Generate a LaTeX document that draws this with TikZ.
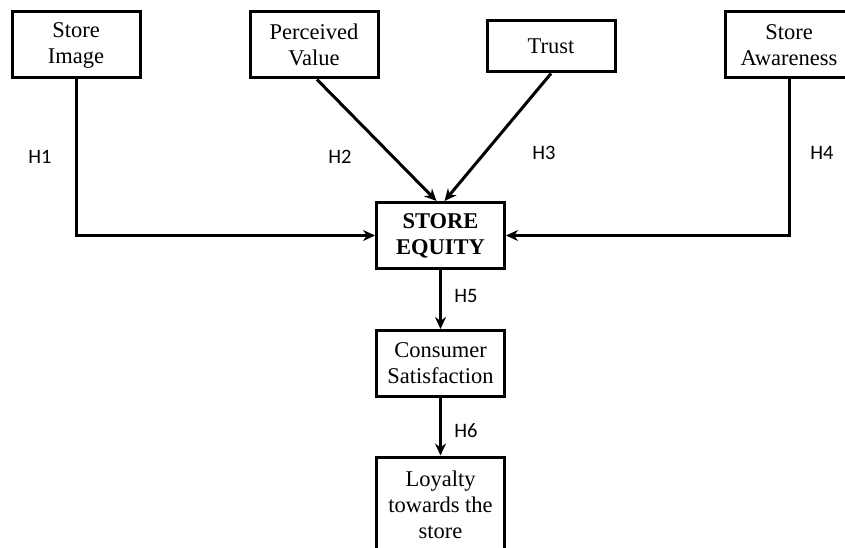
\documentclass[tikz,border=0pt]{standalone}
\usepackage{fontspec}
\setmainfont{Liberation Serif}
\newfontfamily\hlabelfont{Carlito}
\usetikzlibrary{arrows.meta}
\begin{document}
\begin{tikzpicture}[x=1pt,y=-1pt,
  box/.style={draw,line width=3pt,align=center,inner sep=0pt,
    minimum width=128pt,minimum height=66pt,
    font=\fontsize{22.5}{26}\selectfont},
  arr/.style={line width=3pt,-{Stealth[length=12pt,width=11pt]}},
  hyp/.style={font=\hlabelfont\fontsize{20.5}{24}\selectfont,inner sep=0pt}]
\useasboundingbox (0,0) rectangle (845,548);
% constructs
\node[box] (img) at (76,45) {Store\\Image};
\node[box] (pv) at (314,45) {Perceived\\Value};
\node[box,minimum height=51pt] (tr) at (551,46.5) {Trust};
\node[box] (aw) at (789,45) {Store\\Awareness};
\node[box,font=\fontsize{22.5}{26}\selectfont\bfseries] (eq) at (440.5,235.5) {STORE\\EQUITY};
\node[box] (cs) at (440.5,363.5) {Consumer\\Satisfaction};
\node[box,minimum height=95pt] (loy) at (440.5,504.5) {Loyalty\\towards the\\store};
% hypothesised paths
\draw[arr] (img.south) |- (eq.west);
\draw[arr] (aw.south) |- (eq.east);
\draw[arr] ([xshift=3pt]pv.south) -- ([xshift=-4pt]eq.north);
\draw[arr] (tr.south) -- ([xshift=4pt]eq.north);
\draw[arr] (eq.south) -- (cs.north);
\draw[arr] (cs.south) -- (loy.north);
% path labels
\node[hyp] (h1) at (40,157) {H1};
\node[hyp] (h2) at (340,157) {H2};
\node[hyp] (h3) at (544,153) {H3};
\node[hyp] (h4) at (822,153) {H4};
\node[hyp] (h5) at (466,296) {H5};
\node[hyp] (h6) at (466,431) {H6};
\end{tikzpicture}
\end{document}
